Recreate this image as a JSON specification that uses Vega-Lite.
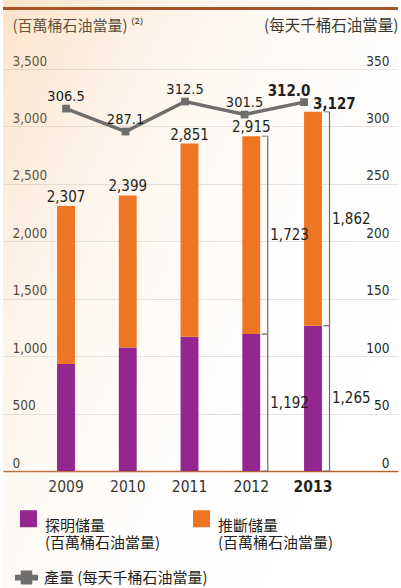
{
  "$schema": "https://vega.github.io/schema/vega-lite/v6.json",
  "width": 395,
  "height": 402,
  "autosize": {"type": "none"},
  "padding": {"left": 3, "top": 69, "right": 3, "bottom": 117},
  "background": "#ffffff",
  "config": {
    "view": {"stroke": null},
    "font": "'Liberation Sans Narrow', 'DejaVu Sans Condensed', 'Liberation Sans', sans-serif",
    "text": {"color": "#231f20", "font": "'Liberation Sans Narrow', 'DejaVu Sans Condensed', 'Liberation Sans', sans-serif"}
  },
  "datasets": {
    "reserves": [
      {"year": "2009", "type": "探明儲量", "value": 931},
      {"year": "2009", "type": "推斷儲量", "value": 1376},
      {"year": "2010", "type": "探明儲量", "value": 1076},
      {"year": "2010", "type": "推斷儲量", "value": 1323},
      {"year": "2011", "type": "探明儲量", "value": 1169},
      {"year": "2011", "type": "推斷儲量", "value": 1682},
      {"year": "2012", "type": "探明儲量", "value": 1192},
      {"year": "2012", "type": "推斷儲量", "value": 1723},
      {"year": "2013", "type": "探明儲量", "value": 1265},
      {"year": "2013", "type": "推斷儲量", "value": 1862}
    ],
    "production": [
      {"year": "2009", "production": 306.5},
      {"year": "2010", "production": 287.1},
      {"year": "2011", "production": 312.5},
      {"year": "2012", "production": 301.5},
      {"year": "2013", "production": 312.0}
    ]
  },
  "layer": [
    {
      "data": {"values": [{"bg": 1}]},
      "mark": {
        "type": "rect",
        "fill": {
          "gradient": "linear",
          "x1": 0, "y1": 0, "x2": 0.9, "y2": 0.7,
          "stops": [
            {"offset": 0, "color": "rgba(246,176,105,0.36)"},
            {"offset": 0.45, "color": "rgba(250,214,178,0.16)"},
            {"offset": 1, "color": "rgba(255,255,255,0)"}
          ]
        }
      },
      "encoding": {
        "y": {"datum": 4150, "type": "quantitative", "scale": {"domain": [0, 3500]}, "axis": null},
        "y2": {"datum": -1200}
      }
    },
    {
      "data": {"values": [{"bg": 1}]},
      "mark": {"type": "rule", "color": "#a8542a", "strokeWidth": 3},
      "encoding": {"y": {"datum": 4027, "type": "quantitative", "scale": {"domain": [0, 3500]}, "axis": null}}
    },
    {
      "data": {"name": "reserves"},
      "mark": {"type": "bar", "width": {"band": 0.73}},
      "encoding": {
        "x": {
          "field": "year", "type": "nominal",
          "scale": {"type": "band", "domain": ["2009", "2010", "2011", "2012", "2013"], "paddingInner": 0.603, "paddingOuter": 1, "align": 0.411},
          "axis": {
            "title": null, "labelAngle": 0, "domain": true, "domainColor": "#b3612f", "domainWidth": 1.5,
            "ticks": false, "labelPadding": 8, "labelFontSize": 15.5,
            "labelColor": "#231f20",
            "labelFontWeight": {"condition": {"test": "datum.value == '2013'", "value": "bold"}, "value": "normal"}
          }
        },
        "y": {
          "field": "value", "type": "quantitative", "stack": "zero",
          "scale": {"domain": [0, 3500]},
          "axis": {
            "values": [0, 500, 1000, 1500, 2000, 2500, 3000, 3500],
            "format": ",d", "grid": true, "gridColor": "#e2e2e2", "gridWidth": 1,
            "domain": false, "ticks": false,
            "labelAlign": "left", "labelBaseline": "alphabetic", "labelPadding": -9, "labelOffset": -4,
            "labelFlush": false,
            "labelFontSize": 13.5, "labelColor": "#231f20",
            "title": "(百萬桶石油當量) ⁽²⁾", "titleFont": "Noto Sans CJK TC", "titleFontSize": 15,
            "titleFontWeight": "normal", "titleColor": "#231f20", "titleAngle": 0, "titleAlign": "left",
            "titleBaseline": "middle", "titleX": 9, "titleY": -44
          }
        },
        "color": {
          "field": "type", "type": "nominal",
          "scale": {"domain": ["探明儲量", "推斷儲量"], "range": ["#93278f", "#ee7623"]},
          "legend": {
            "orient": "none", "legendX": 17, "legendY": 441, "direction": "horizontal", "columns": 2,
            "symbolType": "square", "symbolSize": 289, "symbolStrokeWidth": 0,
            "labelFont": "Noto Sans CJK TC", "labelFontSize": 15, "labelColor": "#231f20",
            "labelExpr": "[datum.label, '(百萬桶石油當量)']", "labelOffset": 8, "labelBaseline": "top",
            "labelLineHeight": 25,
            "columnPadding": 32, "title": null, "padding": 0, "labelLimit": 0
          }
        },
        "order": {"field": "type", "sort": "ascending"}
      }
    },
    {
      "data": {"name": "reserves"},
      "transform": [
        {"aggregate": [{"op": "sum", "field": "value", "as": "total"}], "groupby": ["year"]},
        {"filter": "datum.year != '2013'"}
      ],
      "mark": {"type": "text", "fontSize": 15, "dy": -4, "baseline": "alphabetic"},
      "encoding": {
        "x": {"field": "year", "type": "nominal", "scale": {"type": "band", "domain": ["2009", "2010", "2011", "2012", "2013"], "paddingInner": 0.603, "paddingOuter": 1, "align": 0.411}, "axis": null},
        "y": {"field": "total", "type": "quantitative", "scale": {"domain": [0, 3500]}, "axis": null},
        "text": {"field": "total", "type": "quantitative", "format": ","}
      }
    },
    {
      "data": {"name": "reserves"},
      "transform": [
        {"aggregate": [{"op": "sum", "field": "value", "as": "total"}], "groupby": ["year"]},
        {"filter": "datum.year == '2013'"}
      ],
      "mark": {"type": "text", "fontSize": 15, "fontWeight": "bold", "dy": -3, "align": "left", "baseline": "alphabetic"},
      "encoding": {
        "x": {"field": "year", "type": "nominal", "scale": {"type": "band", "domain": ["2009", "2010", "2011", "2012", "2013"], "paddingInner": 0.603, "paddingOuter": 1, "align": 0.411}, "axis": null},
        "y": {"field": "total", "type": "quantitative", "scale": {"domain": [0, 3500]}, "axis": null},
        "text": {"field": "total", "type": "quantitative", "format": ","}
      }
    },
    {
      "data": {"name": "reserves"},
      "transform": [
        {"filter": "datum.year == '2012' || datum.year == '2013'"},
        {"stack": "value", "groupby": ["year"], "sort": [{"field": "type", "order": "ascending"}], "as": ["v0", "v1"]}
      ],
      "mark": {"type": "rule", "color": "#6b6b6b", "strokeWidth": 1.2, "xOffset": 16.5},
      "encoding": {
        "x": {"field": "year", "type": "nominal", "scale": {"type": "band", "domain": ["2009", "2010", "2011", "2012", "2013"], "paddingInner": 0.603, "paddingOuter": 1, "align": 0.411}, "axis": null},
        "y": {"field": "v0", "type": "quantitative", "scale": {"domain": [0, 3500]}, "axis": null},
        "y2": {"field": "v1"}
      }
    },
    {
      "data": {"name": "reserves"},
      "transform": [
        {"filter": "datum.year == '2012' || datum.year == '2013'"},
        {"stack": "value", "groupby": ["year"], "sort": [{"field": "type", "order": "ascending"}], "as": ["v0", "v1"]}
      ],
      "mark": {"type": "tick", "orient": "horizontal", "size": 6, "thickness": 1.2, "xOffset": 13.5, "color": "#6b6b6b"},
      "encoding": {
        "x": {"field": "year", "type": "nominal", "scale": {"type": "band", "domain": ["2009", "2010", "2011", "2012", "2013"], "paddingInner": 0.603, "paddingOuter": 1, "align": 0.411}, "axis": null},
        "y": {"field": "v1", "type": "quantitative", "scale": {"domain": [0, 3500]}, "axis": null}
      }
    },
    {
      "data": {"name": "reserves"},
      "transform": [
        {"filter": "datum.year == '2012' || datum.year == '2013'"},
        {"stack": "value", "groupby": ["year"], "sort": [{"field": "type", "order": "ascending"}], "as": ["v0", "v1"]}
      ],
      "mark": {"type": "tick", "orient": "horizontal", "size": 6, "thickness": 1.2, "xOffset": 13.5, "color": "#6b6b6b"},
      "encoding": {
        "x": {"field": "year", "type": "nominal", "scale": {"type": "band", "domain": ["2009", "2010", "2011", "2012", "2013"], "paddingInner": 0.603, "paddingOuter": 1, "align": 0.411}, "axis": null},
        "y": {"field": "v0", "type": "quantitative", "scale": {"domain": [0, 3500]}, "axis": null}
      }
    },
    {
      "data": {"name": "reserves"},
      "transform": [
        {"filter": "datum.year == '2012' || datum.year == '2013'"},
        {"stack": "value", "groupby": ["year"], "sort": [{"field": "type", "order": "ascending"}], "as": ["v0", "v1"]},
        {"calculate": "(datum.v0 + datum.v1) / 2", "as": "mid"}
      ],
      "mark": {"type": "text", "fontSize": 15, "align": "left", "baseline": "middle", "dx": 19},
      "encoding": {
        "x": {"field": "year", "type": "nominal", "scale": {"type": "band", "domain": ["2009", "2010", "2011", "2012", "2013"], "paddingInner": 0.603, "paddingOuter": 1, "align": 0.411}, "axis": null},
        "y": {"field": "mid", "type": "quantitative", "scale": {"domain": [0, 3500]}, "axis": null},
        "text": {"field": "value", "type": "quantitative", "format": ","}
      }
    },
    {
      "data": {"name": "production"},
      "mark": {"type": "line", "color": "#6e6e6e", "strokeWidth": 3.5},
      "encoding": {
        "x": {"field": "year", "type": "nominal", "scale": {"type": "band", "domain": ["2009", "2010", "2011", "2012", "2013"], "paddingInner": 0.361, "paddingOuter": 1, "align": 0.37}, "axis": null},
        "y": {"field": "production", "type": "quantitative", "scale": {"domain": [0, 340]}, "axis": null}
      }
    },
    {
      "data": {"name": "production"},
      "mark": {"type": "point", "shape": "square", "filled": true, "size": 60, "opacity": 1},
      "encoding": {
        "x": {"field": "year", "type": "nominal", "scale": {"type": "band", "domain": ["2009", "2010", "2011", "2012", "2013"], "paddingInner": 0.361, "paddingOuter": 1, "align": 0.37}, "axis": null},
        "y": {"field": "production", "type": "quantitative", "scale": {"domain": [0, 340]}, "axis": null},
        "fill": {
          "datum": "產量 (每天千桶石油當量)",
          "scale": {"range": ["#6e6e6e"]},
          "legend": {
            "orient": "none", "legendX": 12, "legendY": 497,
            "symbolType": "M-1,-0.25H1V0.25H-1Z M-0.5,-0.6H0.5V0.6H-0.5Z",
            "symbolSize": 529, "symbolStrokeWidth": 0, "symbolFillColor": "#6e6e6e",
            "labelFont": "Noto Sans CJK TC", "labelFontSize": 15, "labelColor": "#231f20",
            "labelOffset": 6, "title": null, "padding": 0, "labelLimit": 0
          }
        }
      }
    },
    {
      "data": {"name": "production"},
      "transform": [{"filter": "datum.year != '2013'"}],
      "mark": {"type": "text", "fontSize": 14.5, "dy": -8, "baseline": "alphabetic"},
      "encoding": {
        "x": {"field": "year", "type": "nominal", "scale": {"type": "band", "domain": ["2009", "2010", "2011", "2012", "2013"], "paddingInner": 0.361, "paddingOuter": 1, "align": 0.37}, "axis": null},
        "y": {"field": "production", "type": "quantitative", "scale": {"domain": [0, 340]}, "axis": null},
        "text": {"field": "production", "type": "quantitative", "format": ".1f"}
      }
    },
    {
      "data": {"name": "production"},
      "transform": [{"filter": "datum.year == '2013'"}],
      "mark": {"type": "text", "fontSize": 15, "fontWeight": "bold", "dy": -6, "dx": -15, "baseline": "alphabetic"},
      "encoding": {
        "x": {"field": "year", "type": "nominal", "scale": {"type": "band", "domain": ["2009", "2010", "2011", "2012", "2013"], "paddingInner": 0.361, "paddingOuter": 1, "align": 0.37}, "axis": null},
        "y": {"field": "production", "type": "quantitative", "scale": {"domain": [0, 340]}, "axis": null},
        "text": {"field": "production", "type": "quantitative", "format": ".1f"}
      }
    },
    {
      "data": {"name": "production"},
      "mark": {"type": "point", "opacity": 0},
      "encoding": {
        "x": {"field": "year", "type": "nominal", "axis": null},
        "y": {
          "field": "production", "type": "quantitative",
          "scale": {"domain": [0, 350]},
          "axis": {
            "orient": "right",
            "values": [0, 50, 100, 150, 200, 250, 300, 350],
            "format": "d",
            "grid": false, "domain": false, "ticks": false,
            "labelAlign": "right", "labelBaseline": "alphabetic", "labelPadding": -9, "labelOffset": -4,
            "labelFlush": false,
            "labelFontSize": 13.5, "labelColor": "#231f20",
            "title": "(每天千桶石油當量)", "titleFont": "Noto Sans CJK TC", "titleFontSize": 15.5,
            "titleFontWeight": "normal", "titleColor": "#231f20", "titleAngle": 0, "titleAlign": "right",
            "titleBaseline": "middle", "titleX": 0, "titleY": -44
          }
        }
      }
    }
  ],
  "resolve": {"scale": {"y": "independent", "x": "independent"}}
}
